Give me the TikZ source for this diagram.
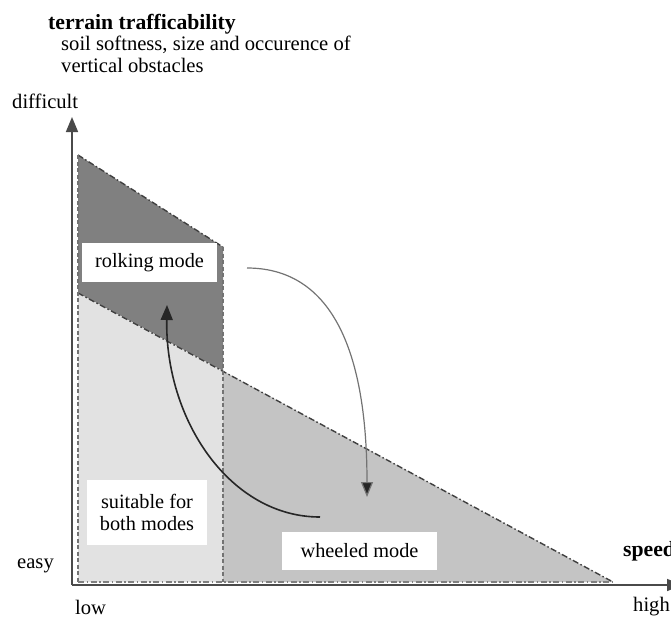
\documentclass[tikz,border=0pt]{standalone}
\usepackage{fontspec}
\setmainfont{Liberation Serif}
\usetikzlibrary{arrows.meta}
\definecolor{zonedark}{HTML}{808080}
\definecolor{zonelight}{HTML}{E2E2E2}
\definecolor{zonemid}{HTML}{C4C4C4}
\definecolor{axisgray}{HTML}{4A4A4A}
\begin{document}
\begin{tikzpicture}[x=1pt,y=-1pt,
  txt/.style={font=\fontsize{20.6}{21}\selectfont, inner sep=0pt},
  ttl/.style={font=\fontsize{21.7}{22}\selectfont\bfseries, inner sep=0pt},
  modebox/.style={fill=white, inner sep=0pt, align=center,
    font=\fontsize{20.3}{21.5}\selectfont},
  border/.style={draw=black!75, line width=1.4pt,
    dash pattern=on 6pt off 2.5pt on 1.5pt off 2.5pt},
  divider/.style={draw=black!55, line width=1.3pt, dash pattern=on 4pt off 2.5pt},
  axisline/.style={draw=axisgray, line width=1.6pt},
  bigtip/.style={-{Triangle[length=15pt,width=12pt]}},
]
\useasboundingbox (0,0) rectangle (671,619);

% shaded zones
\fill[zonedark]  (78,155) -- (223,247) -- (223,371) -- (78,293) -- cycle;
\fill[zonelight] (78,293) -- (223,371) -- (223,582) -- (78,582) -- cycle;
\fill[zonemid]   (223,371) -- (613,582) -- (223,582) -- cycle;

% zone outlines
\draw[border] (78,155) -- (223,247);
\draw[border] (78,293) -- (613,582);
\draw[divider] (223,247) -- (223,582);
\draw[divider] (78,155) -- (78,582);
\draw[border, draw=black!50] (78,582) -- (613,582);

% axes
\coordinate (origin) at (72,585);
\coordinate (ytip) at (72,117);
\coordinate (xtip) at (682,585);
\draw[axisline, bigtip] (origin) -- (ytip);
\draw[axisline, bigtip] (origin) -- (xtip);

% axis labels
\node[ttl, anchor=base west] (title) at (48,29) {terrain trafficability};
\node[txt, anchor=base west] (subtitle1) at (61,50) {soil softness, size and occurence of};
\node[txt, anchor=base west] (subtitle2) at (61,72) {vertical obstacles};
\node[txt, anchor=base west] (difficult) at (12,108) {difficult};
\node[txt, anchor=west] (easy) at (17,566) {easy};
\node[txt, anchor=west] (low) at (75,607) {low};
\node[txt, anchor=west] (high) at (633,607) {high};
\node[ttl, anchor=west] (speed) at (623,551) {speed};

% mode boxes
\node[modebox, minimum width=135pt, minimum height=39pt] (rolk) at (149.5,262.5) {rolking mode};
\node[modebox, minimum width=120pt, minimum height=65pt] (both) at (147,512.5) {suitable for\\both modes};
\node[modebox, minimum width=155pt, minimum height=38pt] (wheel) at (359.5,551) {wheeled mode};

% transitions between modes
\coordinate (toRolkStart) at (320,517);
\coordinate (toRolkEnd) at (167,305);
\draw[black!85, line width=1.6pt, bigtip] (toRolkStart)
  .. controls (230,517) and (165,420) .. (toRolkEnd);
\coordinate (toWheelStart) at (247,268);
\coordinate (toWheelEnd) at (367,497);
\draw[black!55, line width=1.2pt, -{Triangle[length=15pt,width=12pt,fill=black!85]}] (toWheelStart)
  .. controls (320,268) and (367,330) .. (toWheelEnd);
\end{tikzpicture}
\end{document}
